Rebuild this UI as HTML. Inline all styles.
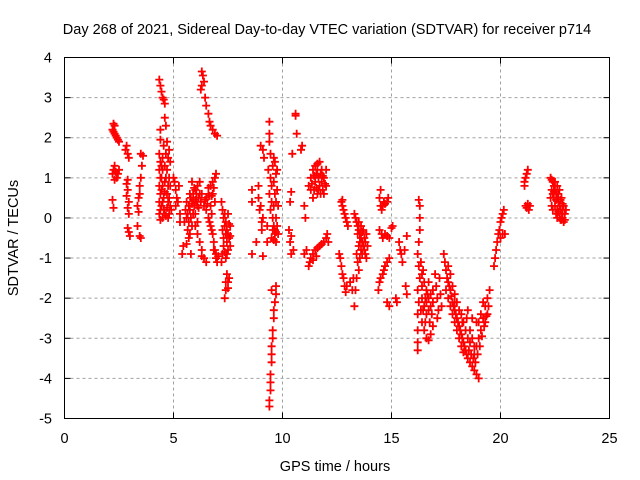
<!DOCTYPE html>
<html><head><meta charset="utf-8"><style>
body{margin:0;background:#fff}
svg{display:block;font-family:"Liberation Sans",sans-serif}
</style></head><body>
<svg id="chart" width="640" height="480">
<rect width="640" height="480" fill="#fff"/>
<text x="327" y="34" font-size="14.5" text-anchor="middle">Day 268 of 2021, Sidereal Day-to-day VTEC variation (SDTVAR) for receiver p714</text>
<g id="grid"></g>
<g id="marks"></g>
<rect x="64.5" y="57.5" width="545" height="361" fill="none" stroke="#000" stroke-width="1"/>
<g id="axes"></g>
<text x="335" y="471" font-size="14.5" text-anchor="middle">GPS time / hours</text>
<text transform="translate(18,238) rotate(-90)" font-size="14.5" text-anchor="middle">SDTVAR / TECUs</text>
</svg>
<script>
const xTicks=[0,5,10,15,20,25];
const yTicks=[4,3,2,1,0,-1,-2,-3,-4,-5];
const hours=[], sdtvar=[];
const points=[
[2.2,2.2],[2.25,2.35],[2.3,2.3],[2.3,2.1],[2.35,2.05],[2.4,2.0],[2.45,1.95],[2.5,1.9],[2.25,2.15],
[2.2,1.1],[2.25,1.2],[2.3,1.3],[2.35,1.15],[2.4,1.0],[2.45,1.1],[2.5,1.2],[2.3,0.95],[2.2,0.45],[2.25,0.25],
[2.8,1.7],[2.85,1.8],[2.9,1.6],[2.95,1.5],[2.85,0.85],[2.9,0.7],[2.85,0.55],[2.95,0.4],[2.9,0.25],[2.95,0.1],[2.95,-0.35],[3.0,-0.45],[2.9,0.95],[2.9,-0.25],
[3.35,0.3],[3.4,0.5],[3.45,0.8],[3.5,1.0],[3.55,1.3],[3.6,1.55],[3.5,1.6],[3.45,0.6],[3.4,0.15],[3.45,-0.45],[3.5,-0.5],[3.35,-0.2],
[4.35,3.45],[4.4,3.3],[4.45,3.15],[4.5,3.0],[4.55,2.95],[4.6,2.85],[4.4,2.2],[4.4,1.95],[4.6,2.5],[4.65,2.3],
[4.35,1.6],[4.35,1.2],[4.35,0.8],[4.35,0.4],[4.35,0.1],[4.4,-0.05],[4.45,0.3],[4.45,0.7],[4.45,1.0],[4.45,1.3],[4.5,1.5],[4.55,0.2],[4.55,0.5],[4.6,0.9],[4.6,1.3],[4.65,1.6],[4.7,1.9],[4.7,1.2],[4.75,0.8],[4.75,0.4],[4.8,1.7],[4.85,1.4],[4.8,0.1],[4.5,0.0],[4.65,0.05],[4.75,0.0],[4.9,0.2],
[4.4,1.4],[4.4,1.0],[4.4,0.6],[4.4,0.2],[4.5,1.2],[4.5,0.8],[4.5,0.4],[4.6,0.1],[4.6,0.65],[4.65,1.0],[4.7,0.6],[4.7,0.25],[4.8,0.5],[4.8,1.0],[4.85,0.8],[4.85,0.3],[4.75,1.5],[4.55,1.8],
[5.0,1.0],[5.05,0.9],[5.1,0.7],[5.15,0.5],[5.2,0.4],[5.1,0.3],[5.25,0.8],[5.3,-0.1],[5.3,0.1],
[5.5,-0.1],[5.55,0.2],[5.6,0.4],[5.6,0.0],[5.65,-0.3],[5.7,0.3],[5.75,0.6],[5.8,0.5],[5.85,0.9],[5.9,0.6],[5.95,0.3],[6.0,0.7],[6.05,0.4],[6.1,0.8],[6.15,0.5],[6.2,0.9],[5.7,-0.5],[5.8,-0.9],[5.6,-0.65],[5.4,-0.9],[5.45,-0.7],[5.9,0.1],[6.0,0.1],[6.1,-0.1],
[5.65,0.1],[5.75,0.2],[5.8,0.0],[5.85,0.35],[5.9,0.45],[5.95,0.75],[6.0,0.45],[6.05,0.6],[6.1,0.3],[6.15,0.25],[6.2,0.6],[5.7,-0.1],[5.75,-0.4],[5.85,-0.2],[6.25,0.4],[6.3,0.6],
[6.0,-0.2],[6.1,-0.4],[6.2,-0.6],[6.3,-0.8],[6.4,-1.0],[6.5,-1.1],[6.3,-0.95],
[6.3,3.65],[6.35,3.55],[6.4,3.4],[6.3,3.3],[6.25,3.2],[6.45,3.0],[6.5,2.8],[6.6,2.6],[6.65,2.4],[6.7,2.3],[6.8,2.2],[6.9,2.1],[7.0,2.05],
[6.4,0.3],[6.5,0.5],[6.6,0.6],[6.7,0.8],[6.8,0.9],[6.9,1.0],[6.95,1.1],[6.5,0.2],[6.6,0.0],[6.7,-0.2],[6.8,-0.4],[6.85,-0.6],[6.9,-0.8],[6.95,-1.0],[7.0,-1.1],[6.7,0.3],[6.8,0.6],
[6.45,0.45],[6.55,0.35],[6.6,0.75],[6.65,0.55],[6.75,0.55],[6.75,0.1],[6.85,0.75],[6.9,0.4],[6.65,-0.1],[6.75,-0.3],[6.85,-0.8],[6.95,-0.9],[7.05,-0.95],
[7.2,0.4],[7.25,0.2],[7.3,0.0],[7.35,-0.2],[7.4,-0.4],[7.45,-0.6],[7.5,-0.8],[7.55,-0.5],[7.6,-0.7],[7.3,-0.5],[7.25,-0.9],[7.35,-0.85],[7.5,0.1],[7.6,-0.2],[7.45,-1.4],[7.5,-1.6],[7.4,-1.8],[7.35,-2.0],[7.2,-1.1],[7.55,-1.5],
[7.25,-0.3],[7.3,-0.7],[7.35,0.1],[7.4,-0.1],[7.45,-0.3],[7.5,-0.4],[7.55,-0.15],[7.6,-0.45],[7.4,-1.0],[7.45,-0.9],[7.4,-1.6],[7.5,-1.75],
[8.6,0.7],[8.6,0.4],[8.8,-0.6],[8.6,-0.9],
[9.0,1.8],[9.1,1.7],[9.15,1.5],[8.9,0.8],[8.9,0.5],[8.95,0.2],[9.0,0.3],[9.05,-0.1],[9.1,0.0],[9.05,-0.3],[9.1,-0.95],
[9.4,-4.7],[9.4,-4.55],[9.45,-4.3],[9.45,-4.1],[9.45,-3.9],[9.5,-3.6],[9.5,-3.4],[9.5,-3.2],[9.55,-3.0],[9.55,-2.8],[9.6,-2.5],[9.6,-2.3],[9.65,-2.1],[9.7,-1.9],[9.7,-1.7],[9.5,-1.8],
[9.4,2.4],[9.4,2.1],[9.4,1.9],[9.45,1.6],[9.35,1.2],[9.45,1.0],[9.5,0.8],[9.4,0.6],[9.5,0.4],[9.45,0.2],[9.55,0.0],[9.6,-0.2],[9.65,-0.4],[9.7,-0.6],[9.55,1.3],[9.65,1.4],[9.7,1.1],[9.75,0.7],[9.8,0.3],[9.7,0.0],[9.65,-0.3],[9.6,1.5],[9.5,-0.5],[9.3,-0.2],[9.3,-0.6],
[9.6,0.9],[9.65,0.6],[9.6,0.3],[9.7,0.4],[9.75,-0.2],[9.8,-0.4],[9.75,1.2],[9.55,-0.3],[9.6,-0.55],[9.7,-0.35],
[10.6,2.6],[10.6,2.55],[10.65,2.1],[10.45,1.6],[10.4,0.65],[10.35,0.4],[10.3,-0.3],[10.35,-0.6],[10.4,-0.9],[10.5,-0.8],[10.4,-0.45],[10.9,1.8],[10.85,1.7],
[11.0,0.3],[11.05,0.0],[11.1,-0.8],[11.0,-0.9],[11.2,0.8],[11.3,1.0],[11.4,1.2],[11.5,1.3],[11.6,1.35],[11.7,1.4],[11.8,1.2],[11.9,1.0],[12.0,0.8],[11.3,0.7],[11.5,0.9],[11.7,0.8],[11.9,0.6],[11.4,0.5],[11.6,0.6],[11.8,0.9],[12.0,1.2],[11.2,-1.2],[11.3,-1.0],[11.4,-0.9],[11.5,-0.8],[11.6,-0.75],[11.7,-0.7],[11.8,-0.65],[11.9,-0.6],[12.0,-0.5],[11.25,-1.1],[12.05,-0.4],[12.1,-0.6],
[11.35,0.85],[11.45,1.05],[11.55,1.1],[11.65,1.0],[11.75,1.1],[11.85,1.05],[11.95,0.85],[11.45,0.7],[11.55,0.75],[11.65,0.7],[11.75,0.6],[11.85,0.7],[11.6,1.2],[11.4,-1.05],[11.55,-0.95],
[12.7,0.4],[12.75,0.3],[12.8,0.2],[12.85,0.1],[12.9,0.0],[12.95,-0.1],[13.0,-0.2],[12.75,0.45],[12.6,-0.9],[12.65,-1.0],[12.7,-1.2],[12.75,-1.4],[12.8,-1.5],[12.85,-1.7],[12.9,-1.85],[12.95,-1.7],[13.1,-1.6],
[13.3,0.1],[13.35,0.0],[13.4,-0.1],[13.45,-0.2],[13.5,-0.3],[13.55,-0.4],[13.6,-0.5],[13.65,-0.6],[13.7,-0.7],[13.75,-0.8],[13.8,-0.6],[13.85,-0.4],[13.5,-0.1],[13.6,-0.2],[13.7,-0.3],[13.4,-0.9],[13.45,-1.1],[13.5,-1.3],[13.4,-1.5],[13.35,-1.8],[13.3,-2.2],[13.55,-1.0],[13.6,-0.8],[13.2,-1.8],[13.25,-1.5],
[13.45,-0.4],[13.55,-0.6],[13.65,-0.35],[13.75,-0.5],[13.8,-0.9],[13.9,-0.7],[13.85,-1.0],[13.5,-0.7],[13.65,-0.9],
[14.45,0.5],[14.5,0.3],[14.55,0.2],[14.6,0.3],[14.65,0.4],[14.7,0.35],[14.8,0.4],[14.85,0.5],[14.5,0.7],[14.45,-0.3],[14.55,-0.4],[14.6,-0.5],[14.7,-0.4],[14.8,-0.45],[14.9,-0.5],[14.4,-1.8],[14.45,-1.6],[14.5,-1.5],[14.6,-1.4],[14.65,-1.3],[14.7,-1.2],[14.8,-1.1],[14.9,-1.0],[14.8,-2.1],[14.9,-2.2],[15.0,-0.25],[15.05,-0.2],
[15.35,-0.6],[15.4,-0.8],[15.45,-0.9],[15.5,-1.1],[15.6,-0.8],[15.7,-0.45],[15.65,-1.7],[15.7,-1.9],[15.2,-2.0],[15.25,-2.1],
[16.25,0.45],[16.3,0.3],[16.3,0.0],[16.3,-0.3],[16.25,-0.6],[16.2,-0.9],[16.25,-1.2],[16.3,-1.5],[16.2,-1.8],[16.25,-2.1],[16.2,-2.4],[16.2,-2.8],[16.2,-3.1],[16.2,-3.3],
[16.4,-1.4],[16.5,-1.6],[16.6,-1.8],[16.7,-2.0],[16.8,-2.2],[16.4,-2.0],[16.5,-2.2],[16.6,-2.4],[16.4,-2.6],[16.5,-2.8],[16.6,-3.0],[16.7,-3.05],[16.8,-2.9],[16.9,-2.7],[16.7,-1.6],[16.9,-1.8],[16.35,-1.1],[16.45,-1.3],
[16.4,-1.7],[16.45,-2.3],[16.55,-2.0],[16.6,-2.1],[16.65,-1.9],[16.7,-2.3],[16.75,-2.6],[16.55,-2.6],[16.35,-2.3],[16.85,-2.4],[16.9,-2.1],[16.8,-1.9],
[17.0,-1.4],[17.05,-1.7],[17.1,-2.0],[17.15,-2.3],[17.1,-2.5],[17.2,-1.5],[17.25,-1.9],[17.3,-2.2],
[17.4,-0.9],[17.45,-1.1],[17.5,-1.3],[17.6,-1.6],[17.7,-1.8],[17.8,-2.1],[17.9,-2.3],[18.0,-2.5],[18.1,-2.7],[18.2,-2.9],[18.3,-3.1],[18.4,-3.3],[18.5,-3.5],[18.6,-3.6],[18.7,-3.7],[18.8,-3.8],[18.9,-3.9],[19.0,-4.0],[17.5,-1.8],[17.6,-2.0],[17.7,-2.2],[17.8,-2.4],[17.9,-2.6],[18.0,-2.8],[18.1,-3.0],[18.2,-3.2],[18.3,-3.35],[18.45,-2.5],[18.5,-2.3],[17.6,-1.2],[17.7,-1.4],[17.8,-1.7],[17.9,-1.9],[18.0,-2.1],[18.2,-2.4],[18.3,-2.6],[18.6,-2.8],[18.7,-3.0],[18.8,-3.2],
[17.55,-1.5],[17.65,-1.7],[17.75,-1.95],[17.85,-2.2],[17.95,-2.4],[18.05,-2.6],[18.15,-2.8],[18.25,-3.0],[18.35,-3.2],[18.45,-3.4],[18.55,-3.3],[18.65,-3.4],[18.75,-3.5],[18.85,-3.6],[18.4,-2.8],[18.5,-3.0],[18.6,-3.1],[18.1,-2.3],[18.25,-2.6],[17.9,-2.1],
[18.8,-3.4],[18.9,-3.2],[19.0,-3.0],[19.1,-2.8],[19.2,-2.5],[19.3,-2.2],[19.4,-2.0],[19.5,-1.8],[19.0,-2.6],[19.1,-2.4],[19.2,-2.1],[18.9,-2.6],[18.7,-2.5],
[18.95,-3.4],[19.05,-3.2],[19.15,-2.95],[19.25,-2.7],[19.35,-2.45],[19.45,-2.2],[19.3,-2.6],[19.4,-2.4],
[19.7,-1.2],[19.75,-1.0],[19.8,-0.8],[19.85,-0.6],[19.9,-0.4],[19.95,-0.3],[20.0,-0.1],[20.05,0.0],[20.1,0.1],[20.15,0.2],[20.0,-0.5],[20.1,-0.4],[20.2,-0.4],
[21.1,0.9],[21.15,1.0],[21.2,1.1],[21.25,1.2],[21.1,0.8],[21.15,0.3],[21.2,0.25],[21.25,0.35],[21.3,0.2],[21.35,0.3],
[22.3,1.0],[22.35,0.95],[22.4,0.9],[22.45,0.8],[22.5,0.7],[22.55,0.6],[22.6,0.5],[22.65,0.4],[22.7,0.3],[22.75,0.2],[22.8,0.1],[22.85,0.0],[22.9,-0.1],[22.3,0.5],[22.35,0.3],[22.4,0.2],[22.45,0.5],[22.5,0.3],[22.55,0.1],[22.6,0.2],[22.7,0.0],[22.8,-0.05],[22.5,0.9],[22.6,0.8],[22.7,0.7],[22.8,0.5],[22.9,0.3],[22.95,0.1],[22.4,0.6],[22.6,0.0],
[22.35,0.7],[22.45,0.65],[22.55,0.45],[22.65,0.6],[22.65,0.15],[22.75,0.45],[22.75,-0.05],[22.85,0.35],[22.85,0.2],[22.95,-0.05],[23.0,0.2]
];
points.forEach(p=>{hours.push(p[0]);sdtvar.push(p[1]);});

const NS='http://www.w3.org/2000/svg';
const X0=64.5,X1=609.5,Y0=418.5,Y1=57.5;
function xs(h){return X0+(h-0)/(25-0)*(X1-X0);}
function ys(v){return Y0-(v-(-5))/(4-(-5))*(Y0-Y1);}
function mk(tag,attrs,parent){const e=document.createElementNS(NS,tag);for(const k in attrs)e.setAttribute(k,attrs[k]);parent.appendChild(e);return e;}
const grid=document.getElementById('grid'),axes=document.getElementById('axes'),marks=document.getElementById('marks');
xTicks.forEach(t=>{
  const x=xs(t);
  if(t>0&&t<25){const g=mk('line',{x1:x,x2:x,y1:Y1,y2:Y0,stroke:'#a0a0a0','stroke-dasharray':'3,3'},grid);
  
  }
  mk('line',{x1:x,x2:x,y1:Y0,y2:Y0-6,stroke:'#000'},axes);
  mk('line',{x1:x,x2:x,y1:Y1,y2:Y1+6,stroke:'#000'},axes);
  const tx=mk('text',{x:x,y:443,'font-size':'14.5','text-anchor':'middle'},axes);
  tx.textContent=t;
  
  
});
yTicks.forEach(t=>{
  const y=ys(t);
  if(t<4&&t>-5){const g=mk('line',{x1:X0,x2:X1,y1:y,y2:y,stroke:'#a0a0a0','stroke-dasharray':'3,3'},grid);
  
  }
  mk('line',{x1:X0,x2:X0+6,y1:y,y2:y,stroke:'#000'},axes);
  mk('line',{x1:X1,x2:X1-6,y1:y,y2:y,stroke:'#000'},axes);
  const tx=mk('text',{x:52,y:y+5,'font-size':'14.5','text-anchor':'end'},axes);
  tx.textContent=t;
  
  
});
let d='';
for(let i=0;i<hours.length;i++){
  const x=xs(hours[i]),y=ys(sdtvar[i]);
  d+=`M${(x-4).toFixed(1)} ${y.toFixed(1)}h8M${x.toFixed(1)} ${(y-4).toFixed(1)}v8`;
}
const pth=mk('path',{d:d,stroke:'#ff0000','stroke-width':'1.8',fill:'none'},marks);


</script>
</body></html>
